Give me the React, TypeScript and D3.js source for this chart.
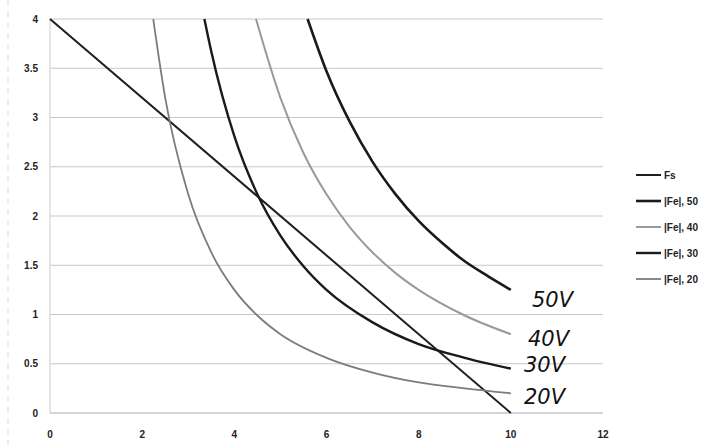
import React from 'react'
import * as d3 from 'd3'

const xTicks = [0, 2, 4, 6, 8, 10, 12]
const yTicks = [0, 0.5, 1, 1.5, 2, 2.5, 3, 3.5, 4]

const fsLine = [[0, 4], [10, 0]]
const fe50 = [[5.59, 4], [6, 3.47], [6.5, 2.96], [7, 2.55], [7.5, 2.22], [8, 1.95], [8.5, 1.73], [9, 1.54], [9.5, 1.39], [10, 1.25]]
const fe40 = [[4.47, 4], [5, 3.2], [5.5, 2.64], [6, 2.22], [6.5, 1.89], [7, 1.63], [7.5, 1.42], [8, 1.25], [9, 0.99], [10, 0.8]]
const fe30 = [[3.35, 4], [3.5, 3.67], [4, 2.81], [4.5, 2.22], [5, 1.8], [5.5, 1.49], [6, 1.25], [7, 0.92], [8, 0.7], [9, 0.56], [10, 0.45]]
const fe20 = [[2.24, 4], [2.5, 3.2], [3, 2.22], [3.5, 1.63], [4, 1.25], [4.5, 0.99], [5, 0.8], [6, 0.56], [7, 0.41], [8, 0.31], [9, 0.25], [10, 0.2]]

const series = [
  { name: 'Fs', data: fsLine, colour: '#1e1e1e', width: 2 },
  { name: '|Fe|, 50', data: fe50, colour: '#1a1a1a', width: 2.6 },
  { name: '|Fe|, 40', data: fe40, colour: '#9a9a9a', width: 2 },
  { name: '|Fe|, 30', data: fe30, colour: '#1a1a1a', width: 2.4 },
  { name: '|Fe|, 20', data: fe20, colour: '#7c7c7c', width: 1.8 },
]

const handLabels = [
  { text: '50V', x: 532, y: 307 },
  { text: '40V', x: 528, y: 346 },
  { text: '30V', x: 524, y: 372 },
  { text: '20V', x: 524, y: 404 },
]

export default function App() {
  const width = 717
  const height = 445
  const x = d3.scaleLinear().domain([0, 12]).range([50, 603])
  const y = d3.scaleLinear().domain([0, 4]).range([413, 19])
  const line = d3.line<number[]>()
    .x(d => x(d[0]))
    .y(d => y(d[1]))
    .curve(d3.curveMonotoneX)

  return (
    <svg width={width} height={height} style={{ position: 'absolute', left: 0, top: 0, background: '#fff' }}>
      <line x1={8} x2={8} y1={0} y2={445} stroke="#ddd" strokeDasharray="6 5" />
      {yTicks.map(t => (
        <g key={`y_${t}`}>
          <line x1={x(0)} x2={x(12)} y1={y(t)} y2={y(t)} stroke={t === 0 ? '#aaa' : '#c8c8c8'} strokeWidth={1} />
          <text x={38} y={y(t) + 3.5} textAnchor="end" fontFamily="Liberation Sans, sans-serif" fontSize={10} fontWeight="bold" fill="#222">{t}</text>
        </g>
      ))}
      <line x1={x(0)} x2={x(0)} y1={y(4)} y2={y(0)} stroke="#ccc" />
      {xTicks.map(t => (
        <text key={`x_${t}`} x={x(t)} y={438} textAnchor="middle" fontFamily="Liberation Sans, sans-serif" fontSize={10} fontWeight="bold" fill="#222">{t}</text>
      ))}
      {series.map(s => (
        <path key={s.name} d={line(s.data) || ''} fill="none" stroke={s.colour} strokeWidth={s.width} />
      ))}
      {handLabels.map(l => (
        <text key={l.text} x={l.x} y={l.y} fontFamily="DejaVu Sans, sans-serif" fontStyle="italic" fontSize={21} fill="#111">{l.text}</text>
      ))}
      {series.map((s, i) => (
        <g key={`leg_${s.name}`} transform={`translate(636, ${175 + i * 26})`}>
          <line x1={0} x2={25} y1={0} y2={0} stroke={s.colour} strokeWidth={s.width} />
          <text x={28} y={3.5} fontFamily="Liberation Sans, sans-serif" fontSize={10} fontWeight="bold" fill="#222">{s.name}</text>
        </g>
      ))}
    </svg>
  )
}
